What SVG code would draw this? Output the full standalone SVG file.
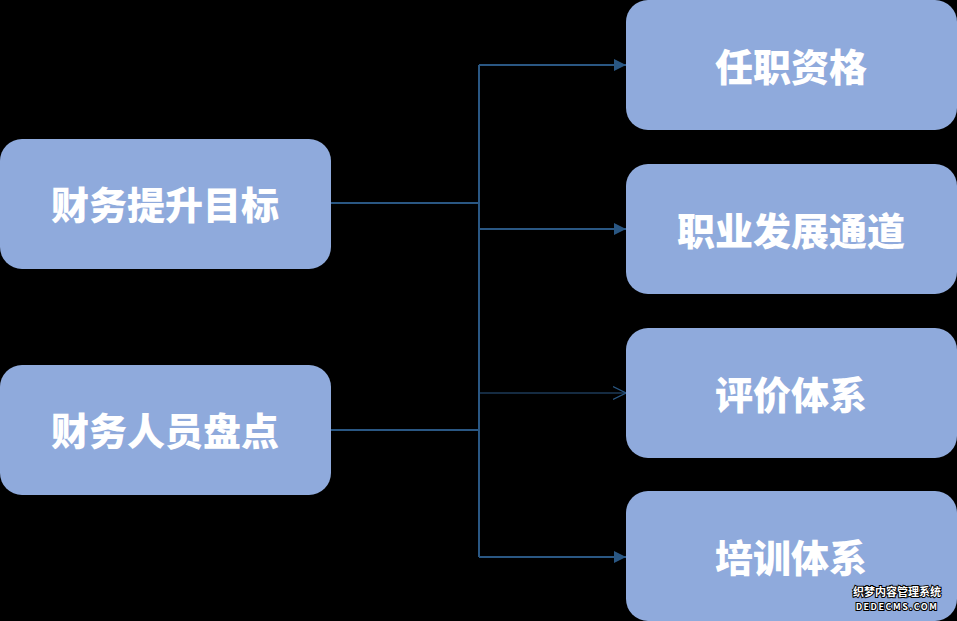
<svg xmlns="http://www.w3.org/2000/svg" width="957" height="621" viewBox="0 0 957 621">
<style>
.box{fill:#8FAADC;}
.lbl{font-family:"Noto Sans CJK SC","Noto Sans",sans-serif;font-weight:900;font-size:38px;fill:#FFFFFF;text-anchor:middle;dominant-baseline:central;}
.ln{stroke:#2A5783;stroke-width:2;fill:none;}
.thin{stroke:#2A5783;stroke-width:1;fill:none;}
.wm{font-family:"Noto Sans CJK SC",sans-serif;font-weight:bold;fill:#FFFFFF;stroke:#000000;stroke-width:2;paint-order:stroke;}
</style>
<defs>
<marker id="af" viewBox="0 0 10 10" refX="10" refY="5" markerWidth="6" markerHeight="6" orient="auto" markerUnits="strokeWidth">
<path d="M0,0 L10,5 L0,10 Z" fill="#2A5783"/>
</marker>
<marker id="ao" viewBox="0 0 10 10" refX="10" refY="5" markerWidth="13" markerHeight="16" orient="auto" markerUnits="strokeWidth">
<path d="M0,0 L10,5 L0,10" fill="none" stroke="#2A5783" stroke-width="1"/>
</marker>
</defs>
<rect width="957" height="621" fill="#000000"/>
<g id="connectors">
<path class="ln" d="M331,203 H479"/>
<path class="ln" d="M331,430 H479"/>
<path class="ln" d="M479,65 V557"/>
<path class="ln" d="M479,65 H626" marker-end="url(#af)"/>
<path class="ln" d="M479,229 H626" marker-end="url(#af)"/>
<path class="thin" d="M479,393 H626" marker-end="url(#ao)"/>
<path class="ln" d="M479,557 H626" marker-end="url(#af)"/>
</g>
<g id="n1"><rect class="box" x="0" y="139" width="331" height="130" rx="22"/><text class="lbl" x="165" y="202">财务提升目标</text></g>
<g id="n2"><rect class="box" x="0" y="365" width="331" height="130" rx="22"/><text class="lbl" x="165" y="428">财务人员盘点</text></g>
<g id="n3"><rect class="box" x="626" y="0" width="331" height="130" rx="22"/><text class="lbl" x="791" y="64">任职资格</text></g>
<g id="n4"><rect class="box" x="626" y="164" width="331" height="130" rx="22"/><text class="lbl" x="791" y="228">职业发展通道</text></g>
<g id="n5"><rect class="box" x="626" y="328" width="331" height="130" rx="22"/><text class="lbl" x="791" y="392">评价体系</text></g>
<g id="n6"><rect class="box" x="626" y="491" width="331" height="130" rx="22"/><text class="lbl" x="791" y="555">培训体系</text></g>
<g id="watermark">
<text class="wm" x="897" y="596" font-size="11" text-anchor="middle">织梦内容管理系统</text>
<text class="wm" x="897" y="610" font-size="9" text-anchor="middle" letter-spacing="1.5">DEDECMS.COM</text>
</g>
</svg>
